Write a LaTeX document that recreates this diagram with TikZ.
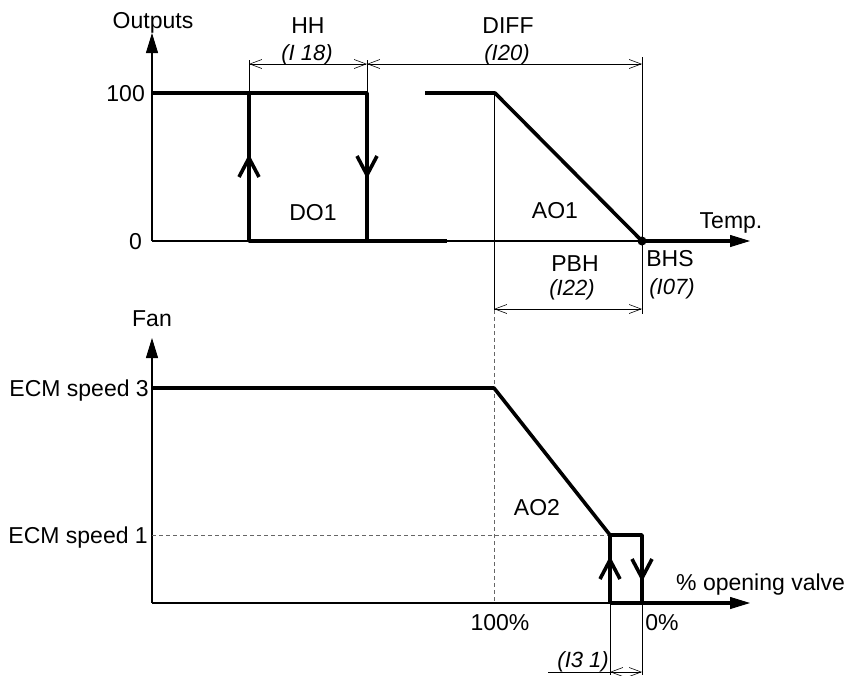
\documentclass[tikz,border=0pt]{standalone}
\usepackage{fontspec}
\setmainfont{Liberation Sans}
\usetikzlibrary{arrows.meta,calc}
\tikzset{
  axis/.style={line width=1.1pt,-{Triangle[length=20pt,width=12pt]}},
  curve/.style={line width=3.6pt,line join=round},
  thinline/.style={line width=0.8pt},
  guide/.style={line width=0.8pt,black!60,dash pattern=on 4pt off 3pt},
  dim/.style={line width=0.6pt,{Straight Barb[length=12pt,width=9pt]}-{Straight Barb[length=12pt,width=9pt]}},
  lbl/.style={font=\fontsize{23}{27}\selectfont,inner sep=0pt,anchor=base},
  param/.style={font=\fontsize{22}{26}\selectfont\itshape,inner sep=0pt,anchor=base},
}

\begin{document}
\begin{tikzpicture}[x=1pt,y=-1pt]
\useasboundingbox (0,0) rectangle (851,675);
% top graph
\coordinate (o1) at (152,241);
\coordinate (bhs) at (642,241);
\draw[axis] (o1)--(152,33);
\node[lbl] (outputs) at (153,28) {Outputs};
\draw[axis] (o1)--(750,241);
\draw[curve] (bhs)--(732,241);
\node[lbl] (temp) at (731,228) {Temp.};
\node[lbl,anchor=base east] (hundred) at (145,101) {100};
\node[lbl,anchor=base east] (zero) at (142,249) {0};
% DO1
\draw[curve] (152,93)--(367,93)--(367,241);
\draw[curve] (249,93)--(249,241)--(447,241);
\draw[curve] (239,177)--(249,158)--(259,177);
\draw[curve] (357,156)--(367,175)--(377,156);
\node[lbl] (do1) at (313,220) {DO1};
% AO1
\draw[curve] (425,93)--(495,93)--(bhs);
\fill (bhs) circle (4.5pt);
\node[lbl] (ao1) at (555,218) {AO1};
% dimensions
\draw[thinline] (249,60)--(249,93) (367,60)--(367,93) (642,57)--(642,314);
\draw[thinline] (494,93)--(494,310);
\draw[guide] (494,310)--(494,603);
\draw[dim] (249,64)--(367,64);
\draw[dim] (367,64)--(642,64);
\draw[dim] (494,309)--(642,309);
\node[lbl] (hh) at (308,33) {HH};
\node[param] (i18) at (307,60) {(I 18)};
\node[lbl] (diff) at (508,33) {DIFF};
\node[param] (i20) at (507,60) {(I20)};
\node[lbl] (pbh) at (575,271) {PBH};
\node[param] (i22) at (572,295) {(I22)};
\node[lbl] (bhslbl) at (670,266) {BHS};
\node[param] (i07) at (672,294) {(I07)};
% bottom graph
\coordinate (o2) at (152,603);
\draw[axis] (o2)--(152,338);
\node[lbl] (fan) at (152,326) {Fan};
\draw[axis] (o2)--(750,603);
\draw[curve] (610,603)--(732,603);
\node[lbl,anchor=base west] (valve) at (676,590) {\% opening valve};
\node[lbl,anchor=base east] (ecm3) at (149,396) {ECM speed 3};
\node[lbl,anchor=base east] (ecm1) at (148,543) {ECM speed 1};
\draw[guide] (152,535)--(610,535);
\draw[curve] (152,388)--(494,388)--(610,535)--(642,535)--(642,603);
\draw[curve] (610,535)--(610,603);
\draw[curve] (600,579)--(610,560)--(620,579);
\draw[curve] (632,559)--(642,578)--(652,559);
\node[lbl] (ao2) at (537,515) {AO2};
\node[lbl] (p100) at (500,630) {100\%};
\node[lbl] (p0) at (662,630) {0\%};
% I31
\draw[thinline] (610,603)--(610,675) (642,603)--(642,675);
\draw[dim] (610,672)--(642,672);
\draw[thinline] (548,672)--(610,672);
\node[param,anchor=base east] (i31) at (609,667) {(I3 1)};
\end{tikzpicture}
\end{document}
